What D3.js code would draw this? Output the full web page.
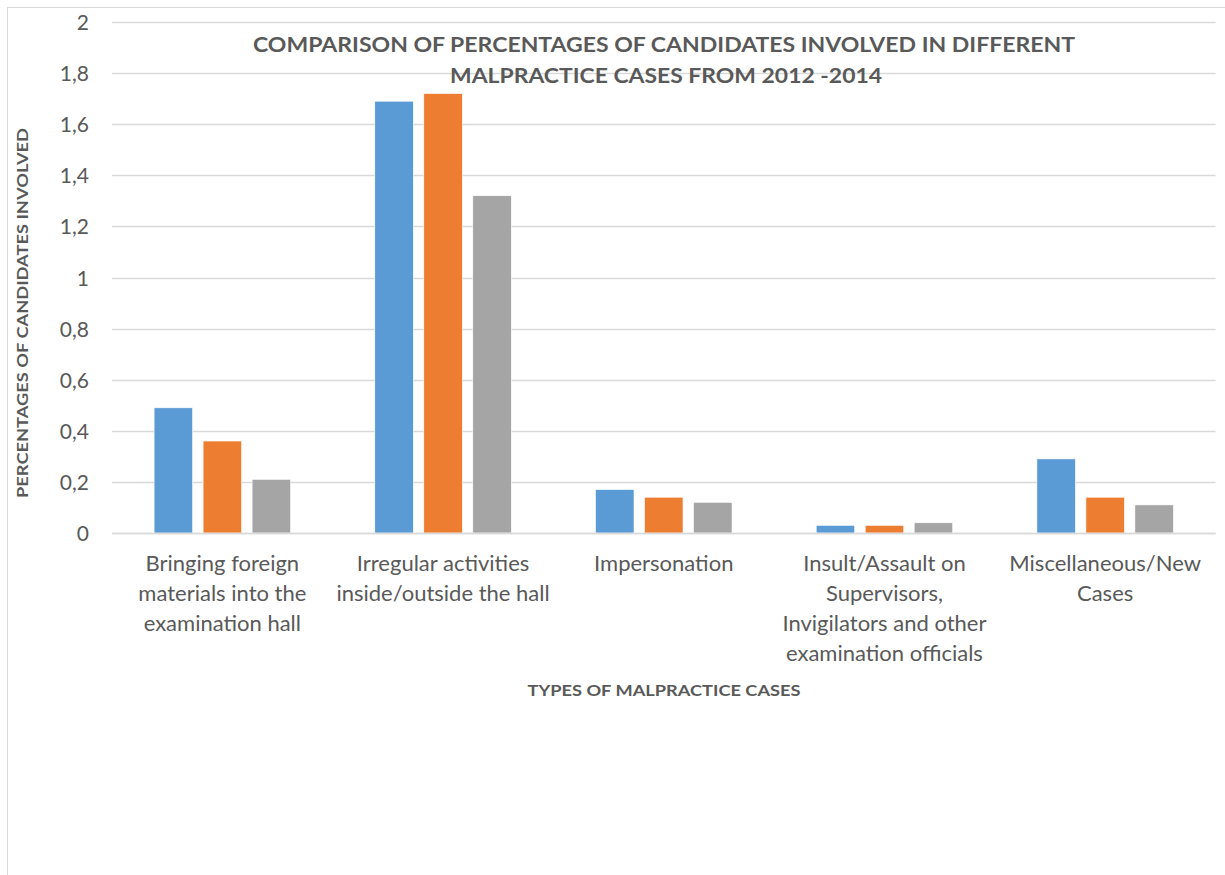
<!DOCTYPE html>
<html>
<head>
<meta charset="utf-8">
<script src="https://cdn.jsdelivr.net/npm/d3@7"></script>
<style>
  html, body { margin: 0; padding: 0; background: #fff; }
  svg { display: block; }
  text { font-family: Lato, "Open Sans", sans-serif; fill: #595959; }
</style>
</head>
<body>
<svg id="chart" width="1225" height="875"></svg>
<script>
// ---- data ----
const categories = [
  "Bringing foreign materials into the examination hall",
  "Irregular activities inside/outside the hall",
  "Impersonation",
  "Insult/Assault on Supervisors, Invigilators and other examination officials",
  "Miscellaneous/New Cases"
];
const categoryLines = [
  ["Bringing foreign", "materials into the", "examination hall"],
  ["Irregular activities", "inside/outside the hall"],
  ["Impersonation"],
  ["Insult/Assault on", "Supervisors,", "Invigilators and other", "examination officials"],
  ["Miscellaneous/New", "Cases"]
];
const seriesNames = ["2012", "2013", "2014"];
const values2012 = [0.49, 1.69, 0.17, 0.03, 0.29];
const values2013 = [0.36, 1.72, 0.14, 0.03, 0.14];
const values2014 = [0.21, 1.32, 0.12, 0.04, 0.11];
const yTicks = [0, 0.2, 0.4, 0.6, 0.8, 1, 1.2, 1.4, 1.6, 1.8, 2];
const titleLines = ["COMPARISON OF PERCENTAGES OF CANDIDATES INVOLVED IN DIFFERENT", "MALPRACTICE CASES FROM 2012 -2014"];
const yTitle = "PERCENTAGES OF CANDIDATES INVOLVED";
const xTitle = "TYPES OF MALPRACTICE CASES";
const colors = ["#5B9BD5", "#ED7D31", "#A5A5A5"];

const seriesValues = [values2012, values2013, values2014];

// ---- layout ----
const svg = d3.select("#chart");
const plot = { left: 112, right: 1215.5, top: 22, bottom: 533 };

// outer chart border
svg.append("rect")
  .attr("x", 7.5).attr("y", 7.5)
  .attr("width", 1300).attr("height", 1000)
  .attr("fill", "none").attr("stroke", "#D9D9D9").attr("stroke-width", 1);

const y = d3.scaleLinear().domain([0, 2]).range([plot.bottom, plot.top]);
const x0 = d3.scaleBand().domain(categories).range([plot.left, plot.right]).padding(0);
const x1 = d3.scaleBand().domain(seriesNames).range([0, x0.bandwidth()])
  .paddingInner(0.214).paddingOuter(0.859);

// gridlines
const grid = svg.append("g");
grid.selectAll("line").data(yTicks).join("line")
  .attr("x1", plot.left).attr("x2", plot.right)
  .attr("y1", d => Math.round(y(d)) + 0.5).attr("y2", d => Math.round(y(d)) + 0.5)
  .attr("stroke", "#D9D9D9").attr("stroke-width", 1.4);

// y axis labels
const yAxis = d3.axisLeft(y).tickValues(yTicks).tickSize(0).tickPadding(0)
  .tickFormat(d => String(+d.toFixed(1)).replace(".", ","));
const yg = svg.append("g").attr("transform", `translate(89,0)`).call(yAxis);
yg.select(".domain").remove();
yg.selectAll("text").attr("font-size", 21).attr("font-family", "Lato, 'Open Sans', sans-serif")
  .attr("fill", "#595959").attr("dy", "0.36em");

// bars
const groups = svg.append("g").selectAll("g").data(categories).join("g")
  .attr("transform", d => `translate(${x0(d)},0)`);
groups.selectAll("rect")
  .data((d, i) => seriesNames.map((s, j) => ({ s, j, v: seriesValues[j][i] })))
  .join("rect")
  .attr("x", d => x1(d.s))
  .attr("width", x1.bandwidth())
  .attr("y", d => y(d.v))
  .attr("height", d => y(0) - y(d.v))
  .attr("fill", d => colors[d.j])
  .attr("stroke", "#fff").attr("stroke-width", 0.6);

// redraw zero line on top
svg.append("line")
  .attr("x1", plot.left).attr("x2", plot.right)
  .attr("y1", Math.round(y(0)) + 0.5).attr("y2", Math.round(y(0)) + 0.5)
  .attr("stroke", "#D9D9D9").attr("stroke-width", 1.4);

// category labels
const catG = svg.append("g");
categories.forEach((c, i) => {
  const cx = x0(c) + x0.bandwidth() / 2;
  const t = catG.append("text").attr("text-anchor", "middle").attr("font-size", 22);
  categoryLines[i].forEach((ln, k) => {
    t.append("tspan").attr("x", cx).attr("y", 571 + k * 30).text(ln);
  });
});

// title
const title = svg.append("g");
title.append("text").attr("x", 664).attr("y", 52).attr("text-anchor", "middle")
  .attr("font-size", 21).attr("font-weight", "bold")
  .attr("textLength", 822).attr("lengthAdjust", "spacingAndGlyphs").text(titleLines[0]);
title.append("text").attr("x", 666).attr("y", 83).attr("text-anchor", "middle")
  .attr("font-size", 21).attr("font-weight", "bold")
  .attr("textLength", 432).attr("lengthAdjust", "spacingAndGlyphs").text(titleLines[1]);

// axis titles
svg.append("text")
  .attr("transform", "translate(28,313) rotate(-90)")
  .attr("text-anchor", "middle").attr("font-size", 16).attr("font-weight", "bold")
  .attr("textLength", 370).attr("lengthAdjust", "spacingAndGlyphs")
  .text(yTitle);
svg.append("text")
  .attr("x", 664).attr("y", 696).attr("text-anchor", "middle")
  .attr("font-size", 16).attr("font-weight", "bold")
  .attr("textLength", 273).attr("lengthAdjust", "spacingAndGlyphs")
  .text(xTitle);
</script>
</body>
</html>
